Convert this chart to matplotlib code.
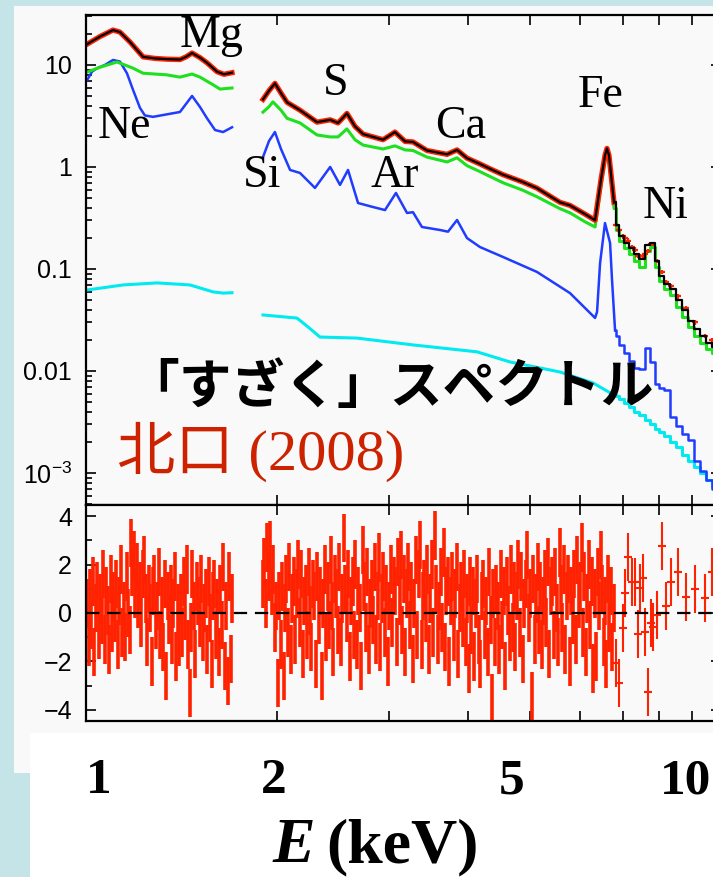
import numpy as np
import matplotlib
matplotlib.use('Agg')
import matplotlib.pyplot as plt
from matplotlib.patches import Rectangle
from matplotlib.ticker import (FixedLocator, FixedFormatter, LogLocator,
                               NullFormatter, MultipleLocator)

W, H = 713, 877

# ---- model components, 1.0 - 1.7 keV ----
black_a_e = [1.004, 1.052, 1.103, 1.131, 1.173, 1.230, 1.284, 1.341, 1.406,
             1.437, 1.469, 1.512, 1.551, 1.608, 1.649, 1.698]
black_a = [16.0, 19.0, 22.0, 21.0, 16.8, 12.0, 11.6, 11.4, 11.3, 12.0, 13.1,
           11.8, 10.5, 8.6, 8.1, 8.4]
green_a_e = [1.004, 1.052, 1.119, 1.186, 1.230, 1.341, 1.406, 1.469, 1.512,
             1.585, 1.626, 1.698]
green_a = [8.5, 9.5, 10.7, 9.3, 8.3, 8.0, 7.6, 8.15, 7.6, 6.4, 5.8, 5.95]
blue_a_e = [1.004, 1.022, 1.041, 1.071, 1.103, 1.131, 1.160, 1.186, 1.216,
            1.238, 1.275, 1.406, 1.469, 1.512, 1.551, 1.597, 1.644, 1.698]
blue_a = [7.1, 8.6, 9.3, 10.0, 11.2, 10.8, 8.3, 5.7, 3.8, 3.2, 3.1, 3.46,
          4.97, 3.87, 3.0, 2.3, 2.2, 2.45]
cyan_a_e = [1.004, 1.144, 1.294, 1.458, 1.585, 1.644, 1.698]
cyan_a = [0.0622, 0.0697, 0.073, 0.0697, 0.0596, 0.058, 0.0585]

# ---- model components, 1.9 - 6.8 keV ----
black_b_e = [1.900, 1.942, 1.984, 2.028, 2.073, 2.173, 2.311, 2.424, 2.494,
             2.576, 2.652, 2.731, 2.936, 3.066, 3.180, 3.273, 3.443, 3.703,
             3.840, 3.981, 4.173, 4.375, 4.537, 4.878, 5.131, 5.578, 5.783,
             6.108, 6.334, 6.471, 6.566, 6.614, 6.662, 6.711, 6.784]
black_b = [4.6, 5.6, 6.6, 5.3, 4.3, 3.6, 2.75, 2.9, 2.7, 3.35, 2.5, 2.1, 1.85,
           2.2, 1.78, 1.76, 1.45, 1.33, 1.47, 1.22, 1.07, 0.93, 0.84, 0.71,
           0.62, 0.45, 0.42, 0.345, 0.30, 0.75, 1.3, 1.52, 1.3, 0.85, 0.45]
green_b_e = [1.900, 1.942, 1.970, 2.028, 2.073, 2.173, 2.311, 2.424, 2.494,
             2.576, 2.652, 2.731, 2.936, 3.066, 3.180, 3.273, 3.443, 3.703,
             3.840, 3.981, 4.173, 4.375, 4.537, 4.878, 5.131, 5.578, 5.783,
             6.108, 6.334, 6.471, 6.566, 6.614, 6.662, 6.711, 6.784]
green_b = [3.45, 3.9, 4.35, 3.6, 3.0, 2.7, 2.06, 1.97, 1.97, 2.36, 1.85, 1.64,
           1.50, 1.61, 1.47, 1.45, 1.25, 1.12, 1.23, 1.03, 0.9, 0.78, 0.70,
           0.59, 0.51, 0.39, 0.355, 0.29, 0.258, 0.65, 1.15, 1.38, 1.15, 0.75,
           0.40]
blue_b_e = [1.900, 1.942, 1.984, 2.028, 2.096, 2.173, 2.294, 2.424, 2.512,
            2.586, 2.682, 2.831, 2.957, 3.077, 3.203, 3.273, 3.381, 3.610,
            3.716, 3.840, 3.981, 4.173, 4.537, 5.131, 5.783, 6.334, 6.380,
            6.450, 6.566, 6.688, 6.736, 6.810]
blue_b = [1.25, 1.8, 2.2, 1.5, 0.935, 0.873, 0.623, 1.0, 0.667, 0.935, 0.443,
          0.405, 0.378, 0.556, 0.354, 0.36, 0.258, 0.241, 0.232, 0.302, 0.201,
          0.164, 0.131, 0.0935, 0.058, 0.0331, 0.038, 0.114, 0.282, 0.18,
          0.078, 0.025]
cyan_b_e = [1.900, 2.149, 2.237, 2.336, 2.672, 3.273, 4.128, 4.653, 5.578,
            6.29, 6.784]
cyan_b = [0.0354, 0.033, 0.027, 0.0215, 0.021, 0.018, 0.0154, 0.01225,
          0.00977, 0.00762, 0.0058]

# ---- binned part above 6.8 keV ----
e_hi = [6.86, 6.98, 7.11, 7.24, 7.37, 7.51, 7.65, 7.79, 7.93, 8.07, 8.22,
        8.40, 8.59, 8.78, 8.97, 9.17, 9.37, 9.57, 9.79]
black_hi = [0.27, 0.21, 0.18, 0.16, 0.14, 0.125, 0.17, 0.18, 0.12, 0.085,
            0.072, 0.063, 0.05, 0.04, 0.031, 0.026, 0.022, 0.019, 0.017]
green_hi = [0.24, 0.19, 0.16, 0.14, 0.12, 0.105, 0.15, 0.165, 0.105, 0.076,
            0.063, 0.055, 0.042, 0.034, 0.027, 0.022, 0.019, 0.0165, 0.015]
blue_hi = [0.022, 0.018, 0.015, 0.0125, 0.0108, 0.0105, 0.0168, 0.0122,
           0.0075, 0.0068, 0.0065, 0.0035, 0.0029, 0.0024, 0.0021, 0.0013,
           0.00105, 0.00085, 0.0007]
cyan_hi = [0.0057, 0.0053, 0.0048, 0.0044, 0.0040, 0.0037, 0.0033, 0.0030,
           0.0027, 0.0025, 0.0023, 0.0020, 0.0018, 0.0015, 0.0013, 0.00115,
           0.001, 0.00085, 0.00075]

# ---- sparse data points above 6.8 keV (flux and residual) ----
e_sp = [6.83, 6.91, 7.01, 7.06, 7.14, 7.24, 7.32, 7.40, 7.46, 7.54, 7.59,
        7.67, 7.76, 7.81, 7.93, 8.07, 8.19, 8.34, 8.56, 8.81, 9.10, 9.44, 9.68]
flux_sp = [0.27, 0.24, 0.21, 0.20, 0.19, 0.165, 0.155, 0.135, 0.135, 0.135,
           0.14, 0.15, 0.175, 0.175, 0.12, 0.093, 0.075, 0.068, 0.054, 0.041,
           0.030, 0.022, 0.020]
res_sp = [-2.07, -2.9, -0.62, 0.83, 2.31, 1.28, 1.28, -0.87, 1.03, 1.45,
          -0.78, -3.26, -0.41, -0.58, -0.08, 2.77, 0.29, 1.28, 1.69, 0.66,
          0.99, 0.62, 1.69]

# ---- residuals, densely binned channels ----
res_left = [
    0.4, -1.2, 0.8, -0.5, 1.3, -1.6, 0.2, 1.1, -0.9, 0.6,
    -0.3, 1.6, -1.1, 0.9, 0.1, -1.5, 1.4, -0.6, 0.7, -0.2,
    1.2, -1.3, 0.5, 1.8, -0.8, 0.3, -1.0, 1.5, 0.0, -0.7,
    2.9, 1.7, 2.4, 0.8, 1.9, 0.4, 1.1, -0.4, 1.6, 2.2,
    0.6, -1.2, 1.0, 0.2, -2.0, 0.9, 1.4, -0.5, 0.3, 1.7,
    -0.9, 0.5, -1.4, 1.2, -2.6, 0.7, -0.3, 1.0, -1.1, 0.4,
    1.5, -1.8, 0.2, -1.2, 0.6, -0.8, 1.3, -0.1, 1.8, -1.3,
    -3.3, -0.6, 1.6, 0.3, -1.7, 1.1, 0.5, -0.4, 1.4, -1.0,
    0.2, 0.8, -1.5, 1.3, -0.2, -2.1, 0.7, 1.2, -0.9, 0.4,
    -1.6, 1.0, -0.5, 1.9, -2.2, 0.3, -2.8, 1.5, -1.9, 0.6,
]
res_right = [
    1.2, 2.1, 0.4, 2.7, 1.5, 2.8, 0.9, 1.8, -0.6, 0.3,
    -2.9, 0.7, -1.3, 1.1, -2.6, 0.2, 1.4, -0.8, 1.9, -1.5,
    0.6, 1.3, -1.1, 0.8, 2.0, -0.4, 1.6, -1.7, 0.5, 1.0,
    -0.9, 1.7, 0.1, -1.4, 1.2, 0.7, -2.1, 1.5, -0.3, 0.9,
    -2.6, 0.4, 1.8, -1.0, 1.1, -0.5, 2.2, 0.3, -1.6, 1.4,
    0.8, -0.7, 1.9, -1.2, 0.6, 3.1, 1.0, -0.2, 1.6, -1.8,
    0.5, 1.3, -0.9, 2.0, -1.3, 0.9, 0.2, -2.2, 2.6, 1.1,
    -0.6, 1.7, -1.5, 0.4, 1.2, -0.3, 1.9, -1.1, 0.7, 2.3,
    -1.4, 0.6, 1.5, -0.8, 1.0, -2.0, 0.3, 1.8, -0.4, 1.3,
    0.9, -1.2, 2.1, 0.5, 2.4, -0.7, 1.4, -1.6, 0.8, 1.9,
    -0.5, 1.1, -1.9, 0.4, 2.2, -0.9, 1.6, 2.8, -1.3, 0.7,
    1.2, -0.2, 1.8, -1.5, 0.6, 2.0, -0.8, 3.2, 1.0, -1.1,
    0.3, 1.7, -0.6, 2.5, -1.4, 0.9, 1.3, -2.0, 0.5, 1.5,
    -1.0, 0.8, 1.9, -1.7, 0.2, 1.1, -0.4, 1.6, -1.2, 0.6,
    -2.3, 1.3, -0.7, 0.9, -1.8, 0.4, 1.4, -1.1, -2.1, 0.7,
    1.2, -0.9, 0.5, -1.6, 1.7, -0.3, -3.5, 0.8, -1.2, 1.0,
    0.3, -1.5, 1.6, -0.5, 0.9, -2.2, 1.3, 0.1, -1.0, 1.8,
    -0.6, 1.1, -1.4, 0.7, 2.0, -0.8, 1.5, -1.9, 0.4, 1.2,
    2.4, -0.2, 0.8, -3.45, 1.4, -1.1, 0.6, 1.9, -0.7, 1.1,
    -1.3, 0.5, 1.6, -0.4, 2.1, -1.7, 0.9, 1.3, -0.9, 1.7,
    0.2, -1.2, 2.5, 1.0, -0.6, 1.8, -1.5, 0.7, 1.4, -2.0,
    0.9, -0.3, 1.6, -1.1, 2.2, 0.4, 1.1, 2.7, -0.8, 1.5,
    -1.6, 0.6, 2.0, -0.5, 1.3, -2.3, 0.8, -1.8, 1.7, 0.3,
    2.4, 1.0, -1.2, 0.5, -2.1, 1.4, -0.6, 0.9, -1.4, 0.2,
]
# channel energies are evenly spaced in log E over each fitted band
e_left = np.geomspace(1.004, 1.698, len(res_left))
e_right = np.geomspace(1.90, 6.78, len(res_right))

RED = '#ff2200'
GREEN = '#1ee01e'
BLUE = '#1f3cff'
CYAN = '#00eaf0'

plt.rcParams['font.family'] = ['Liberation Sans', 'DejaVu Sans']
plt.rcParams['mathtext.fontset'] = 'custom'
plt.rcParams['mathtext.rm'] = 'Liberation Sans'

fig = plt.figure(figsize=(W / 100, H / 100), dpi=100)
fig.patch.set_facecolor('#c4e4e8')


def fx(px):
    return px / W


def fy(py):
    return 1 - py / H


# backing panels
fig.add_artist(Rectangle((fx(14), fy(773)), 1, (773 - 6) / H,
                         transform=fig.transFigure, facecolor='#f9f9f9',
                         edgecolor='none', zorder=0))
fig.add_artist(Rectangle((fx(30), 0), 1, (877 - 733) / H,
                         transform=fig.transFigure, facecolor='white',
                         edgecolor='none', zorder=0))

ax1 = fig.add_axes([fx(86), fy(505), (721 - 86) / W, (505 - 15) / H])
ax2 = fig.add_axes([fx(86), fy(721), (721 - 86) / W, (721 - 505) / H])

for ax in (ax1, ax2):
    ax.set_facecolor('#f9f9f9')
    ax.set_xscale('log')
    ax.set_xlim(1, 10)
    for s in ax.spines.values():
        s.set_linewidth(1.6)
    ax.tick_params(which='both', direction='in', top=True, right=True,
                   width=1.2, labelbottom=False)
    ax.tick_params(which='major', length=7)
    ax.tick_params(which='minor', length=4)
    ax.tick_params(axis='x', which='minor', length=7)
    ax.tick_params(axis='y', labelsize=18, pad=10)
    ax.xaxis.set_major_formatter(NullFormatter())
    ax.xaxis.set_minor_formatter(NullFormatter())

# upper panel: spectrum
ax1.set_yscale('log')
ax1.set_ylim(4.85e-4, 30.9)
ax1.yaxis.set_major_locator(FixedLocator([1e-3, 1e-2, 0.1, 1, 10]))
ax1.yaxis.set_major_formatter(FixedFormatter(
    [r'$\mathregular{10^{-3}}$', '0.01', '0.1', '1', '10']))
ax1.yaxis.set_minor_locator(LogLocator(base=10, subs=np.arange(2, 10)))
ax1.yaxis.set_minor_formatter(NullFormatter())

segments = [(cyan_a_e, cyan_a, cyan_b_e, cyan_b, cyan_hi, CYAN, 2.2),
            (blue_a_e, blue_a, blue_b_e, blue_b, blue_hi, BLUE, 1.8),
            (green_a_e, green_a, green_b_e, green_b, green_hi, GREEN, 2.2)]
for ea, va, eb, vb, vh, col, lw in segments:
    ax1.plot(ea, va, color=col, lw=lw)
    ax1.plot(eb, vb, color=col, lw=lw)
    ax1.plot([eb[-1]] + e_hi, [vb[-1]] + vh, color=col, lw=lw,
             drawstyle='steps-mid')

# data (red) under the total model (black)
ax1.plot(black_a_e, black_a, color=RED, lw=3.8)
ax1.plot(black_b_e, black_b, color=RED, lw=3.8)
e_sp_arr = np.array(e_sp)
flux_sp_arr = np.array(flux_sp)
ax1.errorbar(e_sp_arr, flux_sp_arr, xerr=e_sp_arr * 0.012,
             yerr=flux_sp_arr * 0.05, fmt='none', ecolor=RED, elinewidth=1.6)
ax1.plot(black_a_e, black_a, color='black', lw=1.6)
ax1.plot(black_b_e, black_b, color='black', lw=1.6)
ax1.plot([black_b_e[-1]] + e_hi, [black_b[-1]] + black_hi, color='black',
         lw=1.6, drawstyle='steps-mid')

# lower panel: residuals
ax2.set_ylim(-4.46, 4.46)
ax2.yaxis.set_major_locator(MultipleLocator(2))
ax2.yaxis.set_minor_locator(MultipleLocator(1))
ax2.errorbar(e_left, res_left, yerr=1, fmt='none', ecolor=RED,
             elinewidth=2.6)
ax2.errorbar(e_right, res_right, yerr=1, fmt='none', ecolor=RED,
             elinewidth=2.6)
ax2.errorbar(e_sp_arr, res_sp, xerr=e_sp_arr * 0.014, yerr=1, fmt='none',
             ecolor=RED, elinewidth=1.5)
ax2.axhline(0, color='black', lw=1.6, ls=(0, (6, 3.5)), zorder=5)

# line identifications
lines = [('Mg', 180, 47), ('S', 323, 95), ('Ne', 98, 138), ('Si', 243, 187),
         ('Ar', 370, 187), ('Ca', 435, 138), ('Fe', 578, 107),
         ('Ni', 643, 218)]
for name, px, py in lines:
    fig.text(fx(px), fy(py), name, fontsize=33, family='Liberation Serif',
             ha='left', va='baseline', zorder=10)

fig.text(fx(390), fy(387), '「すざく」スペクトル', fontsize=38,
         family=['Noto Sans CJK JP', 'DejaVu Sans'], weight='bold',
         ha='center', va='center', zorder=10)
fig.text(fx(117), fy(470), '北口 (2008)', fontsize=42, color='#cc2200',
         family=['Liberation Serif', 'Noto Sans CJK JP'],
         ha='left', va='baseline', zorder=10)

# energy axis labels in the lower box
for lab, px in [('1', 99), ('2', 274), ('5', 512), ('10', 686)]:
    fig.text(fx(px), fy(793), lab, fontsize=37, family='Liberation Serif',
             weight='bold', ha='center', va='baseline')
fig.text(fx(272), fy(862), 'E', fontsize=46, family='Liberation Serif',
         style='italic', weight='bold', ha='left', va='baseline')
fig.text(fx(326), fy(862), '(keV)', fontsize=46, family='Liberation Serif',
         weight='bold', ha='left', va='baseline')

fig.savefig('out.png', dpi=100, facecolor=fig.get_facecolor())
